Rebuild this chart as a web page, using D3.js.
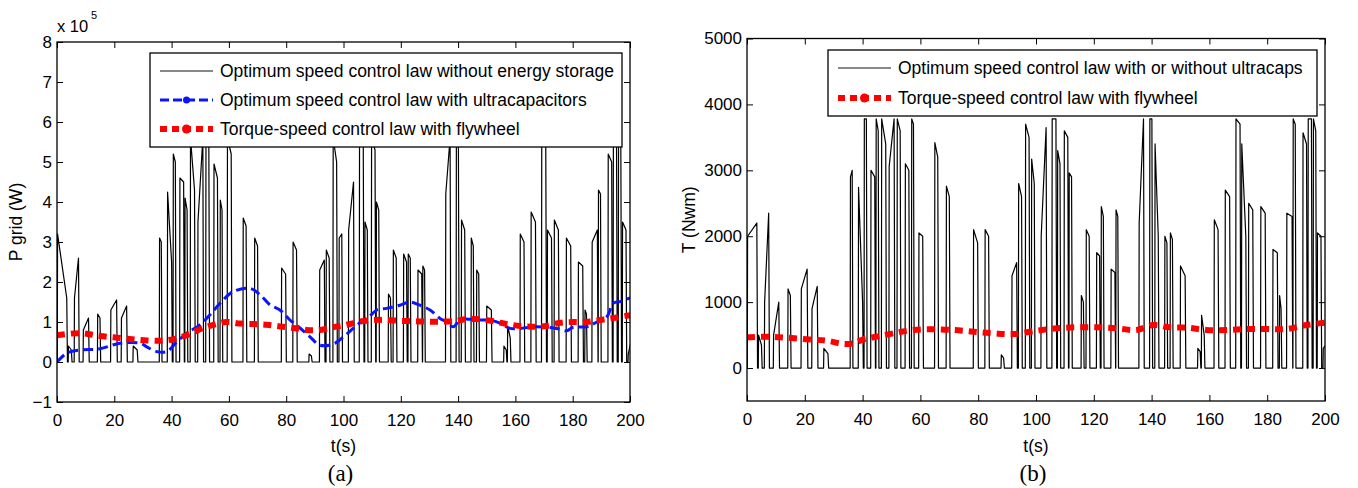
<!DOCTYPE html>
<html><head><meta charset="utf-8">
<script src="https://cdn.jsdelivr.net/npm/d3@7"></script>
<style>
body{margin:0;background:#fff;}
svg text{font-family:"Liberation Sans",Arial,sans-serif;fill:#000;}
</style></head>
<body><svg id="c" width="1358" height="488"></svg>
<script>
// ---------- DATA ----------
const xTicks = [0,20,40,60,80,100,120,140,160,180,200];
const gridTicks = [-1,0,1,2,3,4,5,6,7,8];
const torqueTicks = [0,1000,2000,3000,4000,5000];

// pulse timing (s) shared by both panels
const pulseStart = [0.2,4.0,6.1,9.2,14.2,18.8,22.5,26.6,35.8,38.6,40.6,42.9,44.7,46.6,49.2,52.0,54.8,57.0,59.5,65.0,69.0,78.4,82.4,88.0,91.7,94.0,96.4,98.5,101.8,105.6,107.5,109.8,111.5,115.7,117.4,121.0,122.6,126.0,127.7,135.7,139.4,141.2,144.6,146.5,150.0,156.0,157.3,161.7,165.5,169.2,171.2,173.6,177.8,182.0,184.3,186.8,189.0,192.4,194.2,196.0,197.4,199.4];
const pulseEnd   = [3.4,5.0,7.5,11.0,15.0,20.8,24.3,28.0,36.4,40.0,41.3,44.2,45.4,48.0,50.9,53.0,56.0,57.6,60.8,66.0,70.0,79.8,83.6,88.8,93.3,95.0,97.6,99.4,103.5,106.9,108.3,111.0,112.3,116.4,118.4,122.0,123.3,127.3,128.3,137.2,140.1,142.3,145.3,147.2,151.6,156.8,158.2,163.0,167.0,170.6,172.6,175.0,179.3,183.5,184.8,188.6,189.7,193.6,195.3,196.8,198.6,200.3];
// P grid without storage (x1e5 W): value at pulse start and at pulse end
const gridPeak = [3.2,0.4,1.6,0.8,1.2,1.3,1.1,0.4,3.1,4.25,5.2,4.6,4.1,5.6,3.5,5.6,4.95,4.05,5.6,3.6,3.1,2.35,3.0,0.2,2.3,2.8,5.6,3.1,3.3,5.6,3.5,5.6,4.0,1.7,2.8,2.7,2.7,2.3,2.4,4.2,5.6,3.55,3.1,2.3,1.4,0.4,0.9,3.2,3.75,5.6,3.3,3.55,3.1,2.5,1.3,3.0,4.3,5.2,5.6,5.6,3.5,0.2];
const gridTail = [1.6,0.3,2.6,1.1,1.1,1.55,1.4,0.3,3.0,2.5,5.0,4.5,3.8,4.3,5.6,5.4,4.6,3.8,5.2,3.4,2.9,2.2,2.8,0.15,2.55,2.6,5.0,3.2,4.5,5.4,3.3,5.3,3.8,1.6,2.6,2.5,2.6,2.2,2.3,5.6,5.5,3.3,2.9,2.2,1.3,0.3,0.6,3.0,3.5,5.4,3.1,3.3,2.9,2.4,1.2,3.3,4.2,5.0,5.4,5.4,3.3,0.5];
// Torque without storage (Nwm)
const torquePeak = [2000,500,1000,500,1200,1200,900,300,2900,2740,3780,3000,3780,3780,3060,3780,3100,3780,2050,3420,2760,2100,2100,200,1400,2800,3700,3170,2000,3780,3300,3600,2960,1100,2100,1750,2450,1500,2400,2200,3780,3400,2000,2050,1550,300,800,2250,2700,3780,3400,2500,2450,1800,1100,2350,3780,3570,3780,3780,2050,300];
const torqueTail = [2200,350,2350,1000,1100,1500,1240,220,3000,1000,3780,2900,3600,3400,3780,3600,3000,3700,2000,3200,2600,1900,2000,150,1600,2600,3500,2800,3650,3780,3100,3500,2900,1000,2000,1700,2300,1450,2300,3780,3780,2000,1900,1950,1400,250,500,2100,2600,3700,2000,2400,2350,1750,900,2300,3700,3400,3780,3600,2000,350];

// Optimum speed with ultracapacitors (x1e5 W)
const ucapT = [0,3.4,8,15,22,29,31.3,34.8,38.3,41.8,45.3,49.9,53.4,56.9,61.5,67.4,70.9,74.3,77.8,81.3,84.8,88.3,91.8,96.4,100,103.4,106.9,109.2,111.6,115,119.7,123.2,126.7,130.2,133.7,136,138.3,140.7,144.2,147.6,151.1,154.6,158.1,161.6,166.3,170.9,174.4,177.9,180.2,184.9,188.4,191.9,194.2,196.5,200];
const ucapP = [0,0.22,0.3,0.33,0.47,0.47,0.38,0.26,0.26,0.5,0.72,0.93,1.18,1.47,1.76,1.84,1.68,1.43,1.3,1.05,0.85,0.63,0.42,0.45,0.63,0.84,1.05,1.15,1.3,1.34,1.42,1.5,1.42,1.3,1.09,1.0,0.88,1.05,1.07,1.05,1.05,0.97,0.84,0.84,0.88,0.87,0.84,0.78,0.87,0.88,1.0,1.13,1.47,1.51,1.6];
// Torque-speed with flywheel, P grid (x1e5 W)
const flyT = [0,8,15,22,29,36.1,40.7,45.3,49.9,54.6,59.2,63.9,68.5,73.2,77.8,82.5,87.1,91.8,96.4,101.1,105.7,110.4,115,119.7,124.4,129,133.7,138.3,143,147.6,152.3,156.9,161.6,166.3,170.9,175.6,180.2,184.9,189.5,194.2,200];
const flyP = [0.67,0.72,0.65,0.6,0.55,0.53,0.57,0.67,0.82,0.93,1.0,0.96,0.95,0.93,0.89,0.85,0.8,0.8,0.87,0.93,1.01,1.05,1.05,1.03,1.02,1.01,1.01,1.02,1.07,1.07,1.02,0.95,0.9,0.88,0.9,0.98,1.0,1.0,1.05,1.1,1.17];
// Torque-speed with flywheel, torque (Nwm)
const flyTqT = [0,6.8,13.6,20.7,27.6,33.3,36.8,40.3,44.9,50.6,57.5,64.5,71.4,78.3,85.2,92.1,100.2,107.1,114,121,127.9,134.8,140.6,146.3,152.1,159,166,172.9,179.8,186.7,193.6,200];
const flyTqV = [466,476,461,436,415,365,375,436,476,527,577,588,577,552,527,515,567,603,618,618,603,578,653,618,613,578,578,593,593,593,653,689];

const legendA = ["Optimum speed control law without energy storage","Optimum speed control law with ultracapacitors","Torque-speed control law with flywheel"];
const legendB = ["Optimum speed control law with or without ultracaps","Torque-speed control law with flywheel"];

// ---------- DRAW ----------
const svg = d3.select("#c");
const BLUE = "#0a14ff", RED = "#ff0000";
const FS = 17.5;

function buildPulses(peak, tail){
  const pts = [[0,0]];
  for (let i=0;i<pulseStart.length;i++){
    pts.push([pulseStart[i]-0.1,0],[pulseStart[i],peak[i]],[pulseEnd[i],tail[i]],[pulseEnd[i]+0.25,0]);
  }
  return pts;
}

function panel(cfg){
  const g = svg.append("g");
  const x = d3.scaleLinear().domain([0,200]).range([cfg.x0,cfg.x1]);
  const y = d3.scaleLinear().domain(cfg.yDom).range([cfg.yBot,cfg.yTop]);
  const id = "clip"+cfg.name;
  svg.append("clipPath").attr("id",id).append("rect")
    .attr("x",cfg.x0).attr("y",cfg.yTop).attr("width",cfg.x1-cfg.x0).attr("height",cfg.yBot-cfg.yTop);
  const plot = g.append("g").attr("clip-path",`url(#${id})`);
  const line = d3.line().x(d=>x(d[0])).y(d=>y(d[1]));
  const smooth = d3.line().x(d=>x(d[0])).y(d=>y(d[1])).curve(d3.curveCatmullRom);
  plot.append("path").datum(cfg.black).attr("d",line)
    .attr("fill","none").attr("stroke","#000").attr("stroke-width",1.2).attr("stroke-linejoin","round");
  cfg.smooths.forEach(s=>{
    plot.append("path").datum(s.data).attr("d",smooth).attr("fill","none")
      .attr("stroke",s.color).attr("stroke-width",s.width).attr("stroke-dasharray",s.dash);
  });
  // axes
  const fmt = d3.format("d");
  const ax = (a)=>a.tickSizeOuter(0);
  const bottom = g.append("g").attr("transform",`translate(0,${cfg.yBot})`)
    .call(ax(d3.axisBottom(x).tickValues(xTicks).tickSize(-6).tickPadding(12).tickFormat(fmt)));
  const top = g.append("g").attr("transform",`translate(0,${cfg.yTop})`)
    .call(ax(d3.axisTop(x).tickValues(xTicks).tickSize(-6).tickFormat("")));
  const left = g.append("g").attr("transform",`translate(${cfg.x0},0)`)
    .call(ax(d3.axisLeft(y).tickValues(cfg.yTicks).tickSize(-6).tickPadding(5).tickFormat(fmt)));
  const right = g.append("g").attr("transform",`translate(${cfg.x1},0)`)
    .call(ax(d3.axisRight(y).tickValues(cfg.yTicks).tickSize(-6).tickFormat("")));
  [bottom,top,left,right].forEach(a=>{
    a.select(".domain").remove();
    a.selectAll("line").attr("stroke","#000").attr("stroke-width",1);
    a.selectAll("text").attr("font-size",17).attr("font-family","Liberation Sans, Arial, sans-serif").attr("fill","#000");
  });
  g.append("rect").attr("x",cfg.x0).attr("y",cfg.yTop).attr("width",cfg.x1-cfg.x0).attr("height",cfg.yBot-cfg.yTop)
    .attr("fill","none").attr("stroke","#000").attr("stroke-width",1.3);
  // legend
  const L = cfg.legend;
  g.append("rect").attr("x",L.x).attr("y",L.y).attr("width",L.w).attr("height",L.h)
    .attr("fill","#fff").attr("stroke","#000").attr("stroke-width",1.3);
  L.items.forEach((it,i)=>{
    const yy = L.y + L.first + i*L.step;
    g.append("line").attr("x1",L.x+10).attr("x2",L.x+63).attr("y1",yy).attr("y2",yy)
      .attr("stroke",it.color).attr("stroke-width",it.width).attr("stroke-dasharray",it.dash);
    if (it.dot) g.append("circle").attr("cx",L.x+36.5).attr("cy",yy).attr("r",it.dot).attr("fill",it.color);
    g.append("text").attr("x",L.x+70).attr("y",yy).attr("dy","0.35em").attr("font-size",FS).text(it.label);
  });
  // axis labels
  g.append("text").attr("transform",`translate(${cfg.yLabX},${(cfg.yTop+cfg.yBot)/2}) rotate(-90)`)
    .attr("text-anchor","middle").attr("dy","0.35em").attr("font-size",FS).text(cfg.yLabel);
  g.append("text").attr("x",(cfg.x0+cfg.x1)/2).attr("y",452).attr("text-anchor","middle").attr("font-size",FS).text("t(s)");
  g.append("text").attr("x",(cfg.x0+cfg.x1)/2-3).attr("y",481).attr("text-anchor","middle")
    .attr("font-size",23).style("font-family","Liberation Serif, 'Times New Roman', serif").text(cfg.tag);
  return {x,y};
}

panel({name:"a",x0:57,x1:630,yTop:42,yBot:402,yDom:[-1,8],yTicks:gridTicks,
  black: buildPulses(gridPeak,gridTail),
  smooths:[
    {data:d3.zip(ucapT,ucapP),color:BLUE,width:3,dash:"10,5"},
    {data:d3.zip(flyT,flyP),color:RED,width:6,dash:"8,6"}],
  legend:{x:150,y:53,w:472,h:94,first:18,step:29,items:[
    {label:legendA[0],color:"#111",width:1,dash:null},
    {label:legendA[1],color:BLUE,width:3,dash:"9,4",dot:3.5},
    {label:legendA[2],color:RED,width:6,dash:"7,5",dot:4.5}]},
  yLabel:"P grid (W)", yLabX:16, tag:"(a)"});

panel({name:"b",x0:747,x1:1325,yTop:38.5,yBot:401,yDom:[-500,5000],yTicks:torqueTicks,
  black: buildPulses(torquePeak,torqueTail),
  smooths:[{data:d3.zip(flyTqT,flyTqV),color:RED,width:6,dash:"8,6"}],
  legend:{x:828,y:50,w:489,h:66,first:18,step:30,items:[
    {label:legendB[0],color:"#111",width:1,dash:null},
    {label:legendB[1],color:RED,width:6,dash:"7,5",dot:4.5}]},
  yLabel:"T (Nwm)", yLabX:689, tag:"(b)"});

// exponent label
svg.append("text").attr("x",57).attr("y",32).attr("font-size",16.5).text("x 10");
svg.append("text").attr("x",91).attr("y",19).attr("font-size",11).text("5");
</script></body></html>
